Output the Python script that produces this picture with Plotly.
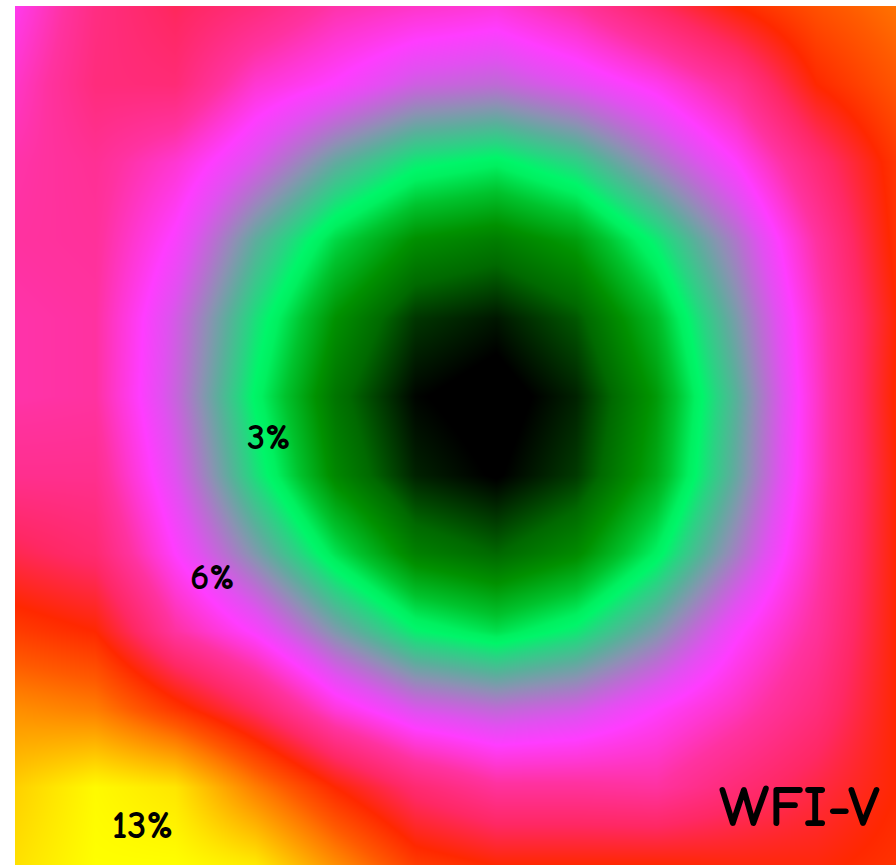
import plotly.graph_objects as go

# Field positions of the sampled grid (columns left->right, rows top->bottom)
x_pos = [0, 1, 2, 3, 4, 5, 6, 7, 8, 9, 10, 11]
y_pos = [0, 1, 2, 3, 4, 5, 6, 7, 8, 9, 10, 11]

# Measured variation across the WFI V-band field, in percent
row_00 = [6.2, 7.5, 8.1, 7.6, 6.9, 6.6, 6.4, 7.0, 8.0, 9.0, 9.8, 10.4]
row_01 = [6.6, 7.6, 7.7, 6.5, 5.95, 5.26, 5.06, 5.54, 6.2, 7.2, 9.0, 9.9]
row_02 = [6.9, 7.2, 6.5, 5.39, 4.09, 3.2, 2.91, 3.5, 4.75, 6.0, 7.7, 9.3]
row_03 = [7.0, 7.1, 5.9, 4.04, 2.58, 1.65, 1.39, 1.86, 3.17, 4.87, 7.0, 9.2]
row_04 = [6.9, 7.0, 5.33, 3.32, 1.69, 0.68, 0.43, 0.95, 2.25, 4.31, 6.67, 9.0]
row_05 = [6.9, 7.0, 5.19, 2.98, 1.27, 0.29, 0.03, 0.52, 1.81, 3.97, 6.57, 9.1]
row_06 = [7.3, 7.3, 5.48, 3.33, 1.55, 0.52, 0.21, 0.71, 2.01, 4.13, 6.6, 9.0]
row_07 = [8.2, 7.8, 6.0, 4.36, 2.7, 1.44, 1.08, 1.59, 2.89, 4.76, 6.8, 9.0]
row_08 = [9.4, 9.0, 7.0, 5.9, 4.36, 3.12, 2.67, 3.2, 4.36, 5.9, 7.1, 9.0]
row_09 = [10.9, 10.6, 9.3, 8.0, 6.4, 5.42, 5.07, 5.32, 6.0, 6.7, 7.6, 9.0]
row_10 = [12.1, 12.9, 12.5, 10.6, 9.0, 7.8, 7.1, 7.1, 7.0, 7.7, 8.3, 9.0]
row_11 = [12.4, 13.0, 13.0, 12.6, 10.9, 9.4, 9.0, 9.0, 9.0, 8.9, 8.9, 9.2]

z_rows = [row_00, row_01, row_02, row_03, row_04, row_05,
          row_06, row_07, row_08, row_09, row_10, row_11]

# Level labels placed on the map
label_text = ["3%", "6%", "13%"]
label_x = [3.16, 2.47, 1.59]
label_y = [5.52, 7.31, 10.49]
label_size = [37, 37, 39]

title_text = "WFI-V"

Z_MAX = 13.0
stops = [
    (0.0, (0, 0, 0)),
    (0.25, (0, 0, 0)),
    (0.65, (0, 50, 0)),
    (1.1, (0, 105, 0)),
    (1.7, (0, 145, 0)),
    (2.35, (0, 195, 45)),
    (2.85, (0, 240, 95)),
    (3.05, (0, 245, 105)),
    (3.45, (40, 212, 130)),
    (4.0, (90, 175, 155)),
    (4.5, (140, 145, 180)),
    (5.0, (185, 110, 210)),
    (5.5, (225, 80, 240)),
    (6.0, (255, 60, 255)),
    (6.5, (255, 55, 210)),
    (7.0, (255, 50, 160)),
    (7.5, (255, 45, 130)),
    (8.0, (255, 40, 100)),
    (8.5, (255, 40, 50)),
    (9.0, (255, 40, 0)),
    (10.0, (255, 90, 0)),
    (10.5, (255, 120, 0)),
    (11.5, (255, 175, 0)),
    (12.5, (255, 230, 0)),
    (13.0, (255, 255, 0)),
]
colorscale = [[v / Z_MAX, "rgb(%d,%d,%d)" % c] for v, c in stops]

fig = go.Figure(
    go.Heatmap(
        x=x_pos,
        y=y_pos,
        z=z_rows,
        zmin=0,
        zmax=Z_MAX,
        zsmooth="best",
        colorscale=colorscale,
        showscale=False,
        hoverinfo="skip",
    )
)

font_family = "Comic Sans MS, Comic Neue, Open Sans, sans-serif"

for t, lx, ly, s in zip(label_text, label_x, label_y, label_size):
    fig.add_annotation(
        x=lx, y=ly, text=t, showarrow=False,
        font=dict(family=font_family, size=s, color="black", weight="bold"),
        xanchor="center", yanchor="middle",
    )

fig.add_annotation(
    x=9.80, y=10.26, text=title_text, showarrow=False,
    font=dict(family=font_family, size=59, color="black", weight="bold"),
    xanchor="center", yanchor="middle",
)

fig.update_xaxes(range=[x_pos[0], x_pos[-1]], visible=False, showgrid=False, zeroline=False)
fig.update_yaxes(range=[y_pos[-1], y_pos[0]], visible=False, showgrid=False, zeroline=False)

fig.update_layout(
    width=896,
    height=865,
    margin=dict(l=15, r=0, t=6, b=0, pad=0),
    paper_bgcolor="white",
    plot_bgcolor="white",
    showlegend=False,
)

fig.write_html("out.html")
